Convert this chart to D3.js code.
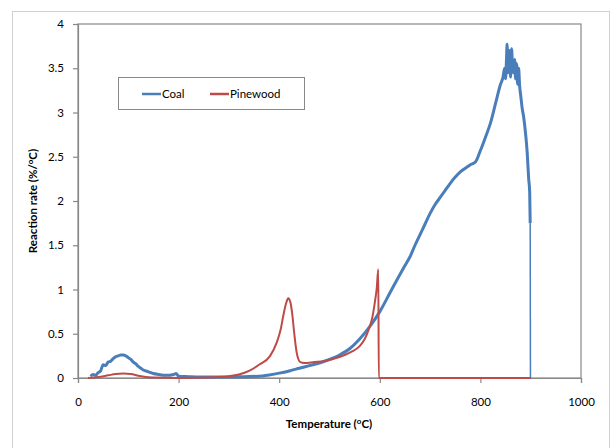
<!DOCTYPE html>
<html><head><meta charset="utf-8">
<script src="https://cdn.jsdelivr.net/npm/d3@7"></script>
<style>
body{margin:0;background:#fff;}
svg text{font-family:Lato,"Open Sans",sans-serif;fill:#000;}
</style></head>
<body><svg id="c" width="611" height="448"></svg>
<script>
const xTicks=[0,200,400,600,800,1000];
const yTicks=[0,0.5,1,1.5,2,2.5,3,3.5,4];
const seriesNames=["Coal","Pinewood"];
const coalT=[25,30,35,40,45,50,55,60,65,70,75,80,85,90,95,100,105,110,115,120,125,130,140,150,160,175,190,195,200,220,250,300,330,360,380,400,420,440,460,480,500,520,540,560,580,600,620,640,650,660,670,680,690,700,710,720,730,740,750,760,770,780,790,800,810,820,830,840,845,848,850,852,853,855,857,858,860,862,864,866,868,870,872,874,876,878,880,883,886,890,893,896,898,899,899.5];
const coalRate=[0.02,0.04,0.03,0.06,0.08,0.15,0.14,0.18,0.19,0.22,0.24,0.25,0.26,0.26,0.25,0.23,0.21,0.18,0.16,0.13,0.11,0.09,0.07,0.05,0.04,0.03,0.04,0.05,0.02,0.015,0.01,0.01,0.015,0.02,0.035,0.055,0.08,0.11,0.14,0.17,0.21,0.26,0.33,0.44,0.58,0.75,0.96,1.17,1.27,1.37,1.5,1.62,1.74,1.86,1.96,2.04,2.12,2.2,2.27,2.33,2.37,2.41,2.44,2.57,2.72,2.88,3.1,3.32,3.4,3.5,3.38,3.62,3.77,3.45,3.55,3.7,3.4,3.72,3.5,3.45,3.6,3.38,3.55,3.32,3.5,3.3,3.2,3.05,2.95,2.75,2.55,2.25,2.1,1.75,0];
const pineT=[20,40,60,75,90,105,120,135,150,200,250,280,300,320,340,360,382,395,403,408,414,418,422,426,430,435,442,450,470,490,510,530,545,560,570,578,585,590,594,597,598,900];
const pineRate=[0,0.01,0.03,0.045,0.05,0.045,0.025,0.01,0.005,0,0.005,0.01,0.02,0.04,0.08,0.15,0.25,0.40,0.55,0.7,0.85,0.9,0.86,0.72,0.5,0.28,0.18,0.17,0.18,0.19,0.22,0.26,0.3,0.36,0.44,0.55,0.68,0.85,1.02,1.23,0,0];
const colors=["#4a7ebb","#be4b48"];

const svg=d3.select("#c");
svg.append("rect").attr("x",12.5).attr("y",11.5).attr("width",597).attr("height",445)
  .attr("fill","#fff").attr("stroke","#d0d0d0");
const L=78,T=24,R=581,B=378;
const x=d3.scaleLinear().domain([0,1000]).range([L,R]);
const y=d3.scaleLinear().domain([0,4]).range([B,T]);

svg.append("rect").attr("x",L).attr("y",T).attr("width",R-L).attr("height",B-T)
  .attr("fill","none").attr("stroke","#888").attr("stroke-width",1.2);

const xa=svg.append("g").attr("transform",`translate(0,${B})`)
  .call(d3.axisBottom(x).tickValues(xTicks).tickSize(5).tickPadding(15).tickFormat(d3.format("d")));
const ya=svg.append("g").attr("transform",`translate(${L},0)`)
  .call(d3.axisLeft(y).tickValues(yTicks).tickSize(5).tickPadding(9).tickFormat(d=>String(d)));
[xa,ya].forEach(a=>{
  a.selectAll("path,line").attr("stroke","#888").attr("stroke-width",1.2);
  a.selectAll("text").style("font-size","11.5px").attr("fill","#000");
});

const line=d3.line().x(d=>x(d[0])).y(d=>y(d[1])).curve(d3.curveMonotoneX);
const coal=coalT.map((t,i)=>[t,coalRate[i]]);
const pine=pineT.map((t,i)=>[t,pineRate[i]]);
const n=coal.length;
svg.append("path").datum(coal.slice(0,n-1)).attr("d",line).attr("fill","none")
  .attr("stroke",colors[0]).attr("stroke-width",3).attr("stroke-linejoin","round");
svg.append("path").datum(coal.slice(n-2)).attr("d",d3.line().x(d=>x(d[0])).y(d=>y(d[1]))).attr("fill","none")
  .attr("stroke",colors[0]).attr("stroke-width",1.5);
svg.append("path").datum(pine).attr("d",line).attr("fill","none")
  .attr("stroke",colors[1]).attr("stroke-width",2).attr("stroke-linejoin","round");

// legend
svg.append("rect").attr("x",118.5).attr("y",77.5).attr("width",186).attr("height",32)
  .attr("fill","#fff").attr("stroke","#888");
const lx=[142,210];
seriesNames.forEach((nm,i)=>{
  svg.append("line").attr("x1",lx[i]).attr("x2",lx[i]+19).attr("y1",94).attr("y2",94)
    .attr("stroke",colors[i]).attr("stroke-width",2.5);
  svg.append("text").attr("x",lx[i]+20).attr("y",98).style("font-size","11.5px").text(nm);
});

// titles
const xt=svg.append("text").attr("x",329).attr("y",428).attr("text-anchor","middle")
  .style("font-size","11.5px").style("font-weight","bold");
xt.append("tspan").text("Temperature (");
xt.append("tspan").attr("dy",-4).style("font-size","8px").text("o");
xt.append("tspan").attr("dy",4).text("C)");
const yt=svg.append("text").attr("transform","translate(37,201) rotate(-90)").attr("text-anchor","middle")
  .style("font-size","11.5px").style("font-weight","bold");
yt.append("tspan").text("Reaction rate (%/");
yt.append("tspan").attr("dy",-4).style("font-size","8px").text("o");
yt.append("tspan").attr("dy",4).text("C)");
</script></body></html>
